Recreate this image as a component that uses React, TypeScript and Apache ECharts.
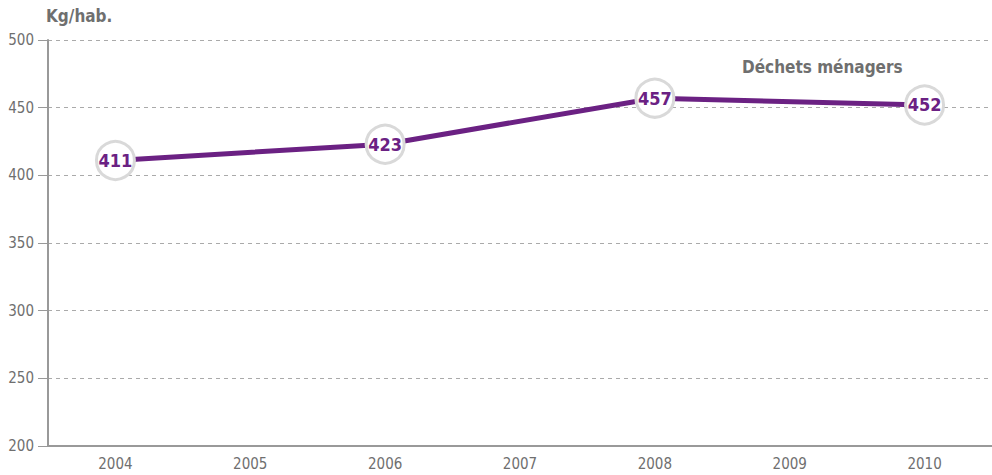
import React, { useEffect, useRef } from "react";
import * as echarts from "echarts";

const years = ["2004", "2005", "2006", "2007", "2008", "2009", "2010"];
const wasteValues: (number | null)[] = [411, null, 423, null, 457, null, 452];
const yTicks = [200, 250, 300, 350, 400, 450, 500];
const unitLabel = "Kg/hab.";
const seriesName = "Déchets ménagers";

const FONT = "'Liberation Sans Narrow', 'DejaVu Sans Condensed', 'Roboto', sans-serif";
const PURPLE = "#6b2183";
const GREY = "#6f6f6f";

export default function App() {
  const ref = useRef<HTMLDivElement>(null);
  useEffect(() => {
    if (!ref.current) return;
    const chart = echarts.init(ref.current, undefined, { renderer: "svg" });
    chart.setOption({
      animation: false,
      grid: { left: 48, top: 40, bottom: 29, width: 947, containLabel: false },
      graphic: [
        {
          type: "text",
          left: 46,
          top: 7,
          style: { text: unitLabel, fill: GREY, font: `bold 17px ${FONT}` },
        },
        {
          type: "text",
          left: 742,
          top: 58,
          style: { text: seriesName, fill: GREY, font: `bold 17px ${FONT}` },
        },
      ],
      xAxis: {
        type: "category",
        data: years,
        boundaryGap: true,
        axisLine: { lineStyle: { color: "#999", width: 2 } },
        axisTick: { alignWithLabel: true, length: 8, lineStyle: { color: "#999" } },
        axisLabel: { color: GREY, fontFamily: FONT, fontSize: 15, margin: 10 },
      },
      yAxis: {
        type: "value",
        min: yTicks[0],
        max: yTicks[yTicks.length - 1],
        interval: 50,
        axisLine: { show: true, lineStyle: { color: "#999", width: 2 } },
        axisTick: { show: true, length: 10, lineStyle: { color: "#999" } },
        axisLabel: { color: GREY, fontFamily: FONT, fontSize: 15, margin: 14 },
        splitLine: { show: true, lineStyle: { color: "#aaa", type: [4, 4], width: 1 } },
      },
      series: [
        {
          name: seriesName,
          type: "line",
          data: wasteValues,
          connectNulls: true,
          symbol: "circle",
          symbolSize: 38,
          showSymbol: true,
          lineStyle: { color: PURPLE, width: 5 },
          itemStyle: { color: "#fff", borderColor: "#d9d9d9", borderWidth: 3 },
          label: {
            show: true,
            position: "inside",
            color: PURPLE,
            fontFamily: FONT,
            fontWeight: "bold",
            fontSize: 18,
          },
          z: 3,
        },
      ],
    });
    return () => chart.dispose();
  }, []);
  return (
    <div
      ref={ref}
      style={{ position: "absolute", left: 0, top: 0, width: 992, height: 475 }}
    />
  );
}
